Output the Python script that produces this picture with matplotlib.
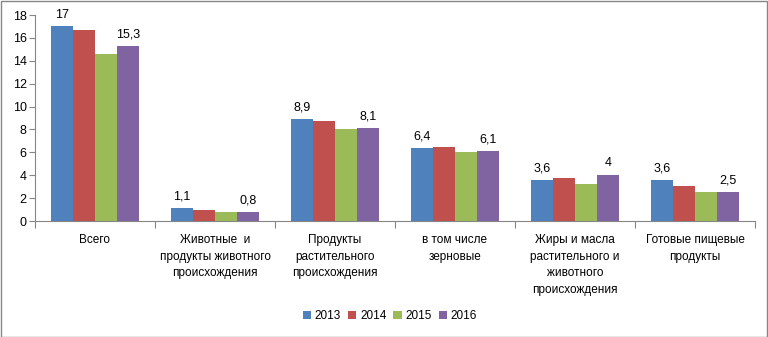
import matplotlib
matplotlib.use("Agg")
import matplotlib.pyplot as plt
import numpy as np
from matplotlib.patches import Rectangle

categories = ["Всего", "Животные  и\nпродукты животного\nпроисхождения",
              "Продукты\nрастительного\nпроисхождения", "в том числе\nзерновые",
              "Жиры и масла\nрастительного и\nживотного\nпроисхождения",
              "Готовые пищевые\nпродукты"]
years = ["2013", "2014", "2015", "2016"]
v2013 = [17.0, 1.1, 8.9, 6.4, 3.6, 3.6]
v2014 = [16.7, 1.0, 8.7, 6.5, 3.8, 3.1]
v2015 = [14.6, 0.8, 8.0, 6.0, 3.2, 2.5]
v2016 = [15.3, 0.8, 8.1, 6.1, 4.0, 2.5]
lab2013 = ["17", "1,1", "8,9", "6,4", "3,6", "3,6"]
lab2016 = ["15,3", "0,8", "8,1", "6,1", "4", "2,5"]
colors = ["#4F81BD", "#C0504D", "#9BBB59", "#8064A2"]

plt.rcParams['font.family'] = ['Liberation Sans', 'DejaVu Sans']
fig = plt.figure(figsize=(7.68, 3.37), dpi=100)
ax = fig.add_axes([35/768, 1-221/337, 720/768, 206/337])

series = [v2013, v2014, v2015, v2016]
x = np.arange(len(categories))
w = 0.183
axc = "#868686"
bars_all = []
for i, (vals, c, y) in enumerate(zip(series, colors, years)):
    b = ax.bar(x + (i - 1.5) * w, vals, w, color=c, label=y)
    bars_all.append(b)
for b, labs in ((bars_all[0], lab2013), (bars_all[3], lab2016)):
    for rect, t in zip(b, labs):
        ax.text(rect.get_x() + rect.get_width()/2, rect.get_height() + 0.5, t,
                ha="center", va="bottom", fontsize=9)

ax.set_xlim(-0.5, len(categories) - 0.5)
ax.set_ylim(0, 18)
ax.set_yticks(np.arange(0, 19, 2))
ax.tick_params(axis="y", labelsize=9, length=4, color=axc, pad=2)
ax.set_xticks(np.arange(-0.5, len(categories), 1.0))
ax.set_xticklabels([])
ax.tick_params(axis="x", length=5, color=axc)
for i, c in enumerate(categories):
    ax.text(i, -1.1, c, ha="center", va="top", fontsize=8.5, linespacing=1.55)
for s in ["top", "right"]:
    ax.spines[s].set_visible(False)
for s in ["left", "bottom"]:
    ax.spines[s].set_color(axc)

leg = fig.legend(handles=bars_all, labels=years, loc="center", bbox_to_anchor=(390/768, 1-316/337),
                 ncol=4, frameon=False, fontsize=8.5, handlelength=0.7, handleheight=0.7,
                 handletextpad=0.3, columnspacing=0.6)

fig.patches.append(Rectangle((0.5/768, 0.5/337), 1-1.5/768, 1-1.5/337, transform=fig.transFigure,
                             fill=False, edgecolor=axc, linewidth=1))
fig.savefig("out.png", dpi=100)
